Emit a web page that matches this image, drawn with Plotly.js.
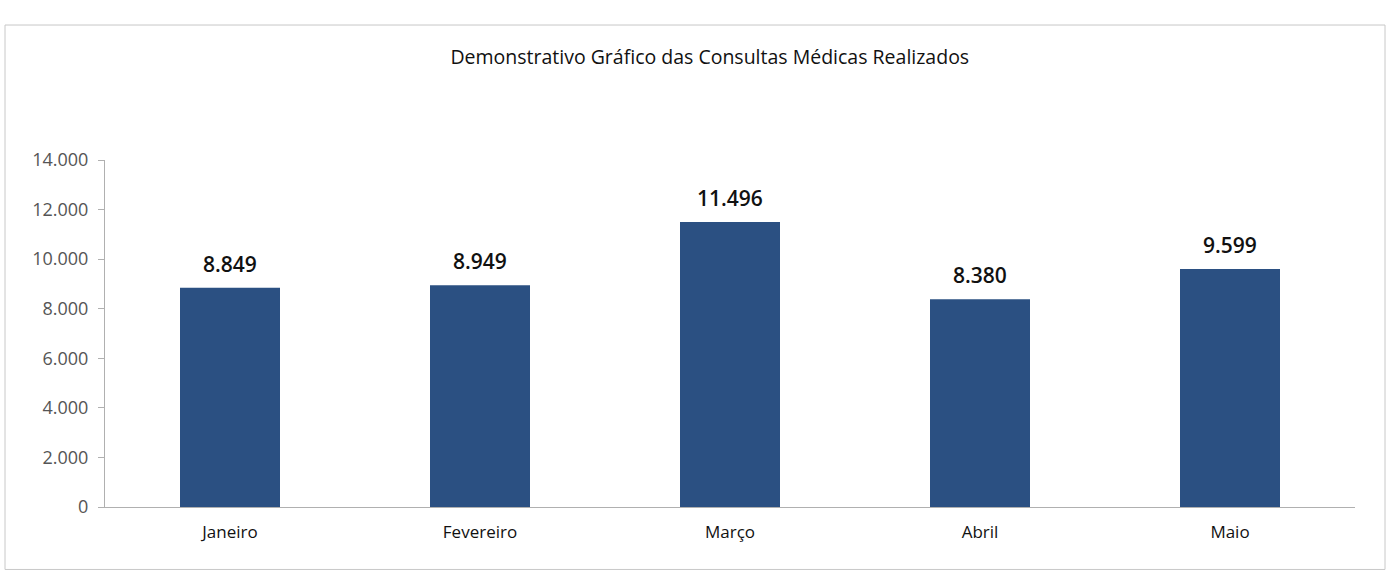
<!DOCTYPE html>
<html>
<head>
<meta charset="utf-8">
<script src="https://cdn.plot.ly/plotly-3.0.1.min.js"></script>
<style>
  html, body { margin: 0; padding: 0; background: #ffffff; }
  #chart { width: 1389px; height: 576px; }
</style>
</head>
<body>
<div id="chart"></div>
<script>
const meses = ["Janeiro", "Fevereiro", "Março", "Abril", "Maio"];
const consultas = [8849, 8949, 11496, 8380, 9599];
const yTicks = [0, 2000, 4000, 6000, 8000, 10000, 12000, 14000];

const fmt = v => v.toLocaleString("de-DE");

const trace = {
  type: "bar",
  x: meses,
  y: consultas,
  marker: { color: "#2b5082", line: { width: 0 } },
  hoverinfo: "x+y"
};

const annotations = meses.map((m, i) => ({
  x: m, y: consultas[i], xref: "x", yref: "y",
  text: fmt(consultas[i]),
  showarrow: false,
  yanchor: "bottom",
  yshift: 8,
  font: { family: "Open Sans, Lato, sans-serif", size: 21, color: "#111111", weight: 600 }
}));

const layout = {
  width: 1389,
  height: 576,
  separators: ",.",
  paper_bgcolor: "#ffffff",
  plot_bgcolor: "#ffffff",
  margin: { l: 105, r: 34, t: 160, b: 69 },
  bargap: 0.6,
  showlegend: false,
  font: { family: "Open Sans, Lato, sans-serif", color: "#333333" },
  title: {
    text: "Demonstrativo Gráfico das Consultas Médicas Realizados",
    font: { family: "Open Sans, Lato, sans-serif", size: 19.5, color: "#111111" },
    x: 0.511, xanchor: "center",
    y: 0.90, yanchor: "middle"
  },
  xaxis: {
    type: "category",
    showgrid: false,
    showline: true,
    linecolor: "#b0b0b0",
    linewidth: 1,
    ticks: "",
    ticklabelstandoff: 10,
    tickfont: { size: 17, color: "#111111" },
    zeroline: false
  },
  yaxis: {
    range: [0, 14000],
    tickvals: yTicks,
    tickformat: ",d",
    showgrid: false,
    showline: true,
    linecolor: "#b0b0b0",
    linewidth: 1,
    ticks: "outside",
    ticklen: 6,
    tickcolor: "#b0b0b0",
    ticklabelstandoff: 6,
    tickfont: { size: 18, color: "#555555" },
    zeroline: false
  },
  annotations: annotations,
  shapes: [
    {
      type: "rect", xref: "paper", yref: "paper",
      x0: -0.08, x1: 1.024, y0: -0.18, y1: 1.389,
      line: { color: "#c8c8c8", width: 1 },
      fillcolor: "rgba(0,0,0,0)"
    }
  ]
};

Plotly.newPlot("chart", [trace], layout, { displayModeBar: false, staticPlot: true });
</script>
</body>
</html>
